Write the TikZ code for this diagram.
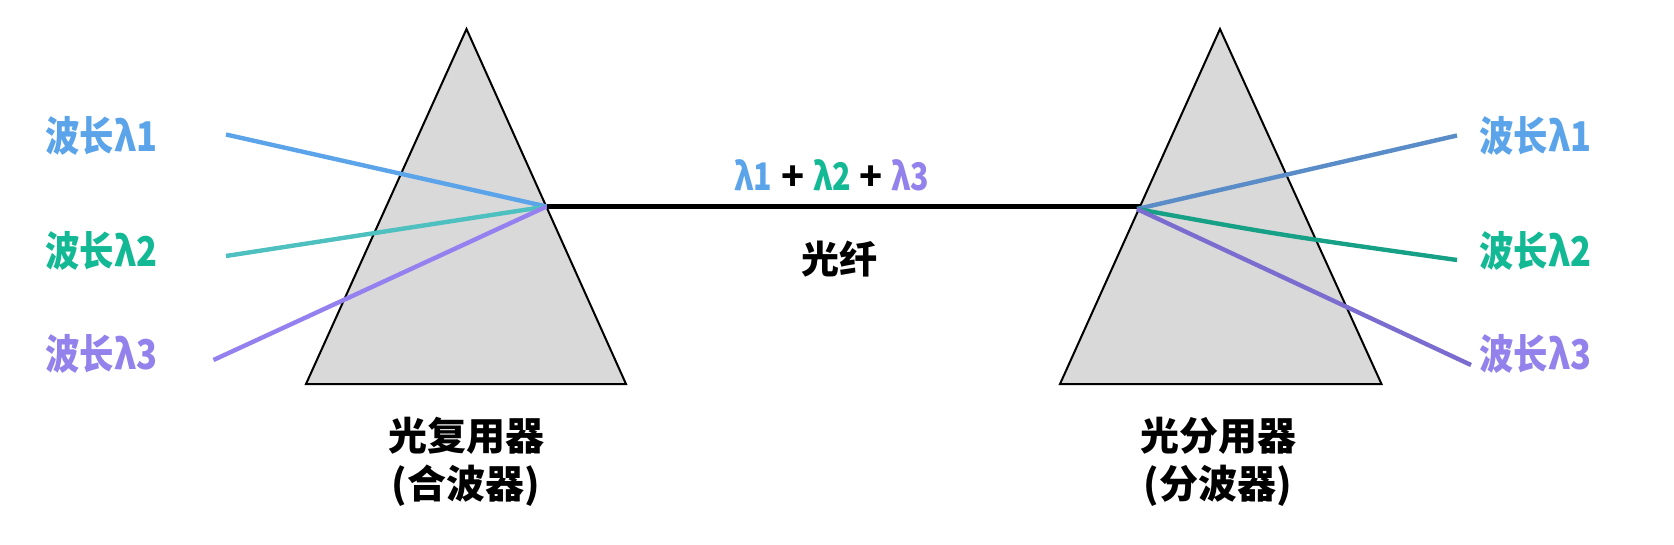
\documentclass[tikz,border=0pt]{standalone}
\usepackage{fontspec}
\setmainfont{Noto Sans CJK SC}
\usepackage{graphicx}
\definecolor{cA}{HTML}{5BA4EA}
\definecolor{cB}{HTML}{13B894}
\definecolor{cC}{HTML}{9381EC}
\definecolor{lA}{HTML}{5BA4EA}
\definecolor{lB}{HTML}{4FC0C0}
\definecolor{lC}{HTML}{9580F0}
\definecolor{rA}{HTML}{5A8DC8}
\definecolor{rB}{HTML}{16A085}
\definecolor{rC}{HTML}{7B6DD0}
\definecolor{prism}{HTML}{D9D9D9}
\newcommand{\lamterm}[2]{\textcolor{#1}{\scalebox{0.8}[1]{#2}}}
\begin{document}
\begin{tikzpicture}[x=1pt,y=-1pt,
  prismbox/.style={fill=prism,draw=black,line width=2pt,line join=miter},
  ray/.style={line width=4.4pt},
  fiber/.style={line width=4.6pt,draw=black},
  sidelabel/.style={inner sep=0pt,font=\fontsize{41}{44}\selectfont\bfseries},
  devlabel/.style={inner sep=0pt,align=center,font=\fontsize{39}{48}\selectfont\bfseries},
  midlabel/.style={inner sep=0pt,font=\fontsize{38}{40}\selectfont\bfseries}]
\useasboundingbox (0,0) rectangle (1674,544);
% prisms
\draw[prismbox] (466.5,29) -- (626,384) -- (306,384) -- cycle;
\draw[prismbox] (1220,29) -- (1381.5,384) -- (1060,384) -- cycle;
% coordinates
\coordinate (mux) at (546.5,206.5);
\coordinate (demux) at (1140,206.5);
\coordinate (demuxr) at (1137,209);
\coordinate (la) at (226,134.5);
\coordinate (lb) at (226,256);
\coordinate (lc) at (213.5,360);
\coordinate (ra) at (1457,135.5);
\coordinate (rb) at (1457,260);
\coordinate (rc) at (1471,365);
% rays left
\draw[ray,lA] (la) -- (mux);
\draw[ray,lB] (lb) -- (mux);
\draw[ray,lC] (lc) -- (mux);
% fiber
\draw[fiber] (mux) -- (demux);
% rays right
\draw[ray,rA] (demuxr) -- (ra);
\draw[ray,rB] (demuxr) .. controls (1280,235) .. (rb);
\draw[ray,rC] (demuxr) -- (rc);
% side labels
\node[sidelabel,text=cA,anchor=west] (tla) at (45,136) {\scalebox{0.84}[1]{波长λ1}};
\node[sidelabel,text=cB,anchor=west] (tlb) at (45,251) {\scalebox{0.84}[1]{波长λ2}};
\node[sidelabel,text=cC,anchor=west] (tlc) at (45,354) {\scalebox{0.84}[1]{波长λ3}};
\node[sidelabel,text=cA,anchor=west] (tra) at (1479,136) {\scalebox{0.84}[1]{波长λ1}};
\node[sidelabel,text=cB,anchor=west] (trb) at (1479,251) {\scalebox{0.84}[1]{波长λ2}};
\node[sidelabel,text=cC,anchor=west] (trc) at (1479,354) {\scalebox{0.84}[1]{波长λ3}};
% middle labels
\node[midlabel] (sum) at (832,175) {\lamterm{cA}{λ1} + \lamterm{cB}{λ2} + \lamterm{cC}{λ3}};
\node[midlabel] (fib) at (839,259) {光纤};
% device labels
\node[devlabel] (muxl) at (466,462) {光复用器\\(合波器)};
\node[devlabel] (demuxl) at (1218,462) {光分用器\\(分波器)};
\end{tikzpicture}
\end{document}
